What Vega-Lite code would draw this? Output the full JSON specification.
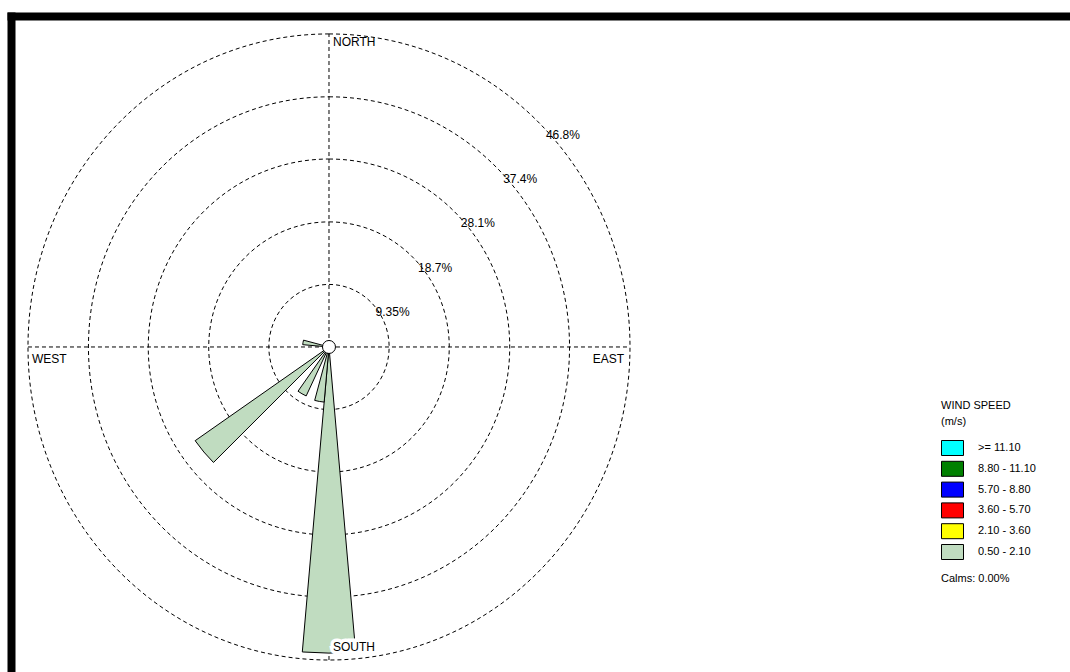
{
  "$schema": "https://vega.github.io/schema/vega-lite/v6.json",
  "width": 1059,
  "height": 656,
  "autosize": {"type": "none"},
  "padding": {"left": 11, "top": 16, "right": 0, "bottom": 0},
  "background": "white",
  "config": {
    "view": {"stroke": null},
    "axis": {"domainWidth": 8, "domainColor": "black", "domainCap": "square", "ticks": false, "labels": false, "grid": false, "title": null},
    "text": {"font": "Liberation Sans"}
  },
  "title": {"text": "Calms: 0.00%", "orient": "top", "anchor": "start", "frame": "group", "offset": 0, "dx": 930, "dy": 568, "font": "Liberation Sans", "fontSize": 11, "fontWeight": "normal", "color": "black", "baseline": "top"},
  "resolve": {"scale": {"radius": "independent"}},
  "datasets": {
    "petals": [
      {"dir": 180, "freq": 47.6, "speed": "0.50 - 2.10"},
      {"dir": 190, "freq": 8.6, "speed": "0.50 - 2.10"},
      {"dir": 210, "freq": 8.4, "speed": "0.50 - 2.10"},
      {"dir": 230, "freq": 25.4, "speed": "0.50 - 2.10"},
      {"dir": 280, "freq": 4.1, "speed": "0.50 - 2.10"}
    ],
    "rings": [
      {"ring": 9.35, "label": "9.35%"},
      {"ring": 18.7, "label": "18.7%"},
      {"ring": 28.1, "label": "28.1%"},
      {"ring": 37.4, "label": "37.4%"},
      {"ring": 46.8, "label": "46.8%"}
    ],
    "center": [{"calms": 0}]
  },
  "encoding": {
    "x": {"datum": 0, "type": "quantitative", "stack": null, "scale": {"domain": [-49.44, 115.21], "nice": false, "zero": false}, "axis": {"orient": "top"}},
    "y": {"datum": 0, "type": "quantitative", "stack": null, "scale": {"domain": [-48.59, 49.48], "nice": false, "zero": false}, "axis": {"orient": "left"}}
  },
  "layer": [
    {
      "data": {"name": "rings"},
      "mark": {"type": "point", "shape": "M0,-1.04C0.5523,-1.04,1,-0.5744,1,0C1,0.5744,0.5523,1.04,0,1.04C-0.5523,1.04,-1,0.5744,-1,0C-1,-0.5744,-0.5523,-1.04,0,-1.04Z", "filled": false, "fill": "transparent", "stroke": "black", "strokeWidth": 1, "strokeDash": [4, 3], "opacity": 1},
      "encoding": {
        "size": {"field": "ring", "type": "quantitative", "scale": {"type": "pow", "exponent": 2, "domain": [0, 46.8], "range": [0, 362404], "zero": true, "nice": false}, "legend": null}
      }
    },
    {
      "data": {"name": "center"},
      "mark": {"type": "rule", "stroke": "black", "strokeWidth": 1, "strokeDash": [4, 3]},
      "encoding": {
        "x": {"datum": -46.8, "type": "quantitative"},
        "x2": {"datum": 46.8},
        "y": {"datum": 0, "type": "quantitative"}
      }
    },
    {
      "data": {"name": "center"},
      "mark": {"type": "rule", "stroke": "black", "strokeWidth": 1, "strokeDash": [4, 3]},
      "encoding": {
        "y": {"datum": -46.8, "type": "quantitative"},
        "y2": {"datum": 46.8}
      }
    },
    {
      "data": {"name": "petals"},
      "mark": {"type": "arc", "thetaOffset": -0.08727, "theta2Offset": 0.08727, "stroke": "black", "strokeWidth": 1, "strokeJoin": "miter"},
      "encoding": {
        "theta": {"field": "dir", "type": "quantitative", "stack": null, "scale": {"domain": [0, 360], "range": [0, 6.28318], "zero": true, "nice": false}},
        "theta2": {"field": "dir"},
        "radius": {"field": "freq", "type": "quantitative", "stack": null, "scale": {"type": "linear", "domain": [0, 46.8], "range": [0, 301], "zero": true, "nice": false}},
        "color": {
          "field": "speed", "type": "nominal",
          "scale": {"domain": [">= 11.10", "8.80 - 11.10", "5.70 - 8.80", "3.60 - 5.70", "2.10 - 3.60", "0.50 - 2.10"], "range": ["#00ffff", "#008000", "#0000ff", "#ff0000", "#ffff00", "#c0dcc0"]},
          "legend": {
            "orient": "none", "legendX": 930, "legendY": 384,
            "title": ["WIND SPEED", "(m/s)"], "titleFont": "Liberation Sans", "titleFontSize": 11, "titleFontWeight": "normal", "titleColor": "black", "titleLineHeight": 16, "titlePadding": 13, "titleAnchor": "start",
            "labelFont": "Liberation Sans", "labelFontSize": 11, "labelColor": "black",
            "symbolType": "M-1,-1H1.9333V1H-1Z", "symbolSize": 225, "symbolStrokeColor": "black", "symbolStrokeWidth": 1, "symbolOpacity": 1,
            "labelOffset": 21, "rowPadding": 0.8, "padding": 0, "offset": 0
          }
        }
      }
    },
    {
      "data": {"name": "center"},
      "mark": {"type": "arc", "theta": 0, "theta2": 6.2832, "radius": 6.5, "fill": "white", "stroke": "black", "strokeWidth": 1}
    },
    {
      "data": {"name": "rings"},
      "mark": {"type": "text", "align": "left", "baseline": "top", "dx": 4, "dy": 4, "fontSize": 12, "font": "Liberation Sans", "color": "black"},
      "encoding": {
        "theta": {"datum": 43.9, "type": "quantitative", "stack": null},
        "radius": {"field": "ring", "type": "quantitative", "stack": null, "scale": {"type": "linear", "domain": [0, 46.8], "range": [0, 307.1], "zero": true, "nice": false}},
        "text": {"field": "label"}
      }
    },
    {
      "data": {"values": [{"label": "NORTH"}]},
      "mark": {"type": "text", "align": "left", "baseline": "top", "dx": 4, "dy": 3, "fontSize": 12, "font": "Liberation Sans", "color": "black"},
      "encoding": {
        "y": {"datum": 46.8, "type": "quantitative"},
        "text": {"field": "label"}
      }
    },
    {
      "data": {"values": [{"label": "WEST"}]},
      "mark": {"type": "text", "align": "left", "baseline": "top", "dx": 4, "dy": 7, "fontSize": 12, "font": "Liberation Sans", "color": "black"},
      "encoding": {
        "x": {"datum": -46.8, "type": "quantitative"},
        "text": {"field": "label"}
      }
    },
    {
      "data": {"values": [{"label": "EAST"}]},
      "mark": {"type": "text", "align": "right", "baseline": "top", "dx": -6, "dy": 7, "fontSize": 12, "font": "Liberation Sans", "color": "black"},
      "encoding": {
        "x": {"datum": 46.8, "type": "quantitative"},
        "text": {"field": "label"}
      }
    },
    {
      "data": {"values": [{"label": "SOUTH"}]},
      "mark": {"type": "text", "align": "left", "baseline": "alphabetic", "dx": 4, "dy": -9, "fontSize": 12, "font": "Liberation Sans", "color": "black", "stroke": "white", "strokeWidth": 7, "strokeJoin": "miter"},
      "encoding": {
        "y": {"datum": -46.8, "type": "quantitative"},
        "text": {"field": "label"}
      }
    },
    {
      "data": {"values": [{"label": "SOUTH"}]},
      "mark": {"type": "text", "align": "left", "baseline": "alphabetic", "dx": 4, "dy": -9, "fontSize": 12, "font": "Liberation Sans", "color": "black"},
      "encoding": {
        "y": {"datum": -46.8, "type": "quantitative"},
        "text": {"field": "label"}
      }
    }
  ]
}
